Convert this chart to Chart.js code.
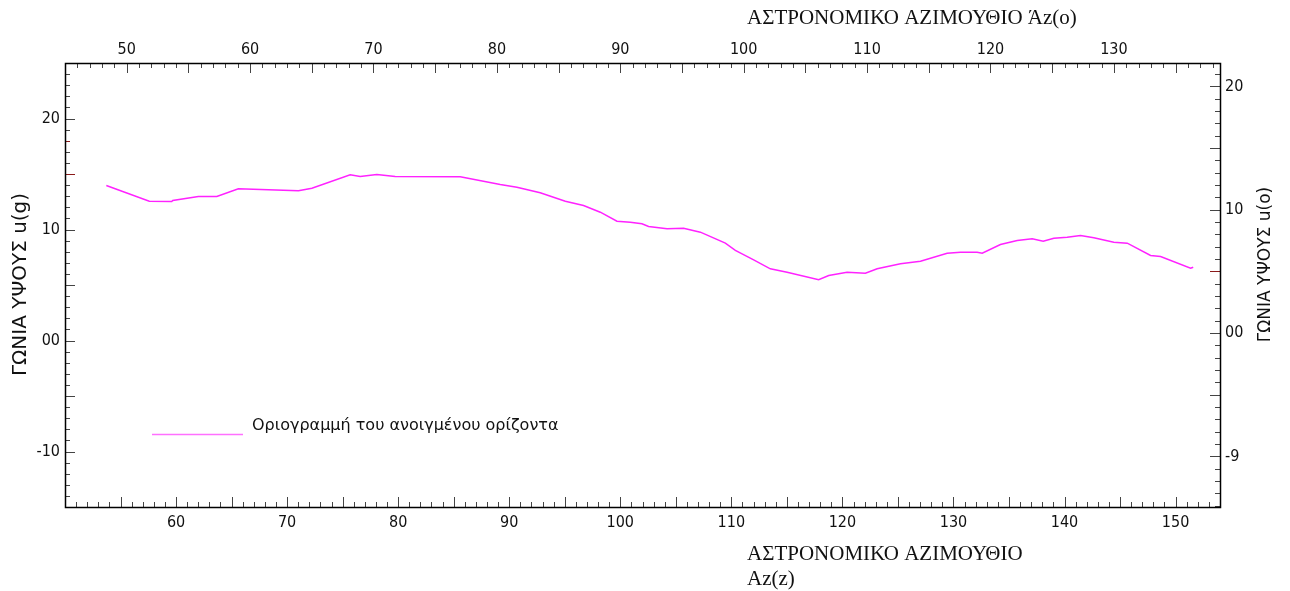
<!DOCTYPE html>
<html><head><meta charset="utf-8">
<script src="https://cdn.jsdelivr.net/npm/chart.js@4.4.1/dist/chart.umd.min.js"></script>
<style>html,body{margin:0;padding:0;background:#fff;}#wrap{width:1290px;height:591px;}</style>
</head><body><div id="wrap"><canvas id="c" width="1290" height="591"></canvas></div>
<script>
// ---- data ----
const azimuthG = [53.72,57.59,59.61,59.70,62.01,63.67,65.61,71.02,72.23,75.68,76.58,78.08,79.73,85.59,89.19,90.69,92.79,95.05,96.69,98.20,99.70,100.90,101.95,102.55,104.21,105.70,107.21,109.46,110.36,112.01,113.51,115.02,117.86,118.77,120.42,122.07,123.13,125.23,127.03,129.43,130.63,132.13,132.59,134.23,135.74,137.09,138.08,139.04,140.24,141.44,142.64,144.44,145.65,147.75,148.65,151.35,151.59];
const heightG = [13.96,12.55,12.52,12.61,12.97,12.97,13.67,13.49,13.72,14.93,14.77,14.95,14.77,14.75,14.05,13.81,13.31,12.55,12.16,11.56,10.75,10.66,10.51,10.27,10.06,10.12,9.76,8.77,8.11,7.27,6.46,6.15,5.47,5.86,6.15,6.06,6.46,6.91,7.14,7.86,7.95,7.95,7.86,8.65,9.01,9.16,8.95,9.22,9.31,9.46,9.25,8.86,8.77,7.66,7.57,6.51,6.60];
const bottomTicks = [60,70,80,90,100,110,120,130,140,150];
const topTicks = [50,60,70,80,90,100,110,120,130];
const leftTickValues = [20,10,0,-10];
const leftTickLabels = ['20','10','00','-10'];
const rightTickValues = [20,10,0,-10];
const rightTickLabels = ['20','10','00','-9'];
const seriesLabel = 'Οριογραμμή του ανοιγμένου ορίζοντα';
const topTitle = 'ΑΣΤΡΟΝΟΜΙΚΟ ΑΖΙΜΟΥΘΙΟ Άz(o)';
const bottomTitle = ['ΑΣΤΡΟΝΟΜΙΚΟ ΑΖΙΜΟΥΘΙΟ', 'Az(z)'];
const leftTitle = 'ΓΩΝΙΑ ΥΨΟΥΣ u(g)';
const rightTitle = 'ΓΩΝΙΑ ΥΨΟΥΣ u(o)';
const highlightLeft = [18, 15];
const highlightRight = [5];

const points = azimuthG.map((x, i) => ({x: x, y: heightG[i]}));
const tickFont = {family: '"Liberation Sans Narrow", "DejaVu Sans Condensed", "Liberation Sans", sans-serif', size: 16};

function fixedTicks(vals) { return function(s){ s.ticks = vals.map(v => ({value: v})); }; }

const framePlugin = {
  id: 'frame',
  afterDraw(chart) {
    const ctx = chart.ctx, a = chart.chartArea, sc = chart.scales;
    ctx.save();
    function drawTicks(scale, side, hl) {
      const lo = Math.ceil(scale.min), hi = Math.floor(scale.max);
      for (let v = lo; v <= hi; v++) {
        const len = (v % 5 === 0) ? 10 : 5;
        const p = Math.round(scale.getPixelForValue(v)) + 0.5;
        ctx.strokeStyle = (hl && hl.indexOf(v) >= 0) ? '#8b1a1a' : '#444';
        ctx.lineWidth = 1;
        ctx.beginPath();
        if (side === 'bottom') { ctx.moveTo(p, a.bottom); ctx.lineTo(p, a.bottom - len); }
        if (side === 'top') { ctx.moveTo(p, a.top); ctx.lineTo(p, a.top + len); }
        if (side === 'left') { ctx.moveTo(a.left, p); ctx.lineTo(a.left + len, p); }
        if (side === 'right') { ctx.moveTo(a.right, p); ctx.lineTo(a.right - len, p); }
        ctx.stroke();
      }
    }
    drawTicks(sc.x, 'bottom');
    drawTicks(sc.x2, 'top');
    drawTicks(sc.y, 'left', highlightLeft);
    drawTicks(sc.y2, 'right', highlightRight);
    ctx.strokeStyle = '#000';
    ctx.lineWidth = 1.5;
    ctx.strokeRect(Math.round(a.left) + 0.5, Math.round(a.top) + 0.5, Math.round(a.right - a.left), Math.round(a.bottom - a.top));
    ctx.fillStyle = '#111';
    ctx.textBaseline = 'middle';
    ctx.textAlign = 'left';
    ctx.font = '21px "Liberation Serif", "Times New Roman", serif';
    ctx.fillText(topTitle, 747, 18);
    ctx.fillText(bottomTitle[0], 747, 554);
    ctx.fillText(bottomTitle[1], 747, 579);
    ctx.textAlign = 'center';
    ctx.save();
    ctx.translate(21, 284.5);
    ctx.rotate(-Math.PI / 2);
    ctx.font = '20px "DejaVu Sans", sans-serif';
    ctx.fillText(leftTitle, 0, 0);
    ctx.restore();
    ctx.save();
    ctx.translate(1266, 264.5);
    ctx.rotate(-Math.PI / 2);
    ctx.font = '17px "DejaVu Sans", sans-serif';
    ctx.fillText(rightTitle, 0, 0);
    ctx.restore();
    const ds = chart.data.datasets[0];
    ctx.strokeStyle = '#ff70ff';
    ctx.lineWidth = 1.5;
    ctx.beginPath(); ctx.moveTo(152, 434.5); ctx.lineTo(243, 434.5); ctx.stroke();
    ctx.textAlign = 'left';
    ctx.font = '16px "DejaVu Sans", sans-serif';
    ctx.fillStyle = '#111';
    ctx.fillText(ds.label, 252, 426);
    ctx.restore();
  }
};

const axisCommon = {grid: {display: false, drawTicks: false}, border: {display: false}};

new Chart(document.getElementById('c'), {
  type: 'line',
  data: {
    datasets: [{
      label: seriesLabel,
      data: points,
      borderColor: '#ff22ff',
      borderWidth: 1.5,
      pointRadius: 0,
      tension: 0,
      fill: false,
      xAxisID: 'x',
      yAxisID: 'y'
    }]
  },
  options: {
    responsive: false,
    animation: false,
    devicePixelRatio: 1,
    layout: {padding: 0},
    plugins: {legend: {display: false}, tooltip: {enabled: false}},
    scales: {
      x: Object.assign({}, axisCommon, {
        type: 'linear', position: 'bottom', min: 50, max: 154,
        afterBuildTicks: fixedTicks(bottomTicks),
        afterFit(s) { s.height = 84; },
        ticks: {color: '#111', font: tickFont, padding: 6, maxRotation: 0, autoSkip: false}
      }),
      x2: Object.assign({}, axisCommon, {
        type: 'linear', position: 'top', min: 45, max: 138.6,
        afterBuildTicks: fixedTicks(topTicks),
        afterFit(s) { s.height = 63; },
        ticks: {color: '#111', font: tickFont, padding: 4, maxRotation: 0, autoSkip: false}
      }),
      y: Object.assign({}, axisCommon, {
        type: 'linear', position: 'left', min: -15, max: 25,
        afterBuildTicks: fixedTicks(leftTickValues),
        afterFit(s) { s.width = 65; },
        ticks: {color: '#111', font: tickFont, padding: 5, autoSkip: false,
          callback: (v) => leftTickLabels[leftTickValues.indexOf(v)]}
      }),
      y2: Object.assign({}, axisCommon, {
        type: 'linear', position: 'right', min: -14.1, max: 21.9,
        afterBuildTicks: fixedTicks(rightTickValues),
        afterFit(s) { s.width = 70; },
        ticks: {color: '#111', font: tickFont, padding: 5, autoSkip: false,
          callback: (v) => rightTickLabels[rightTickValues.indexOf(v)]}
      })
    }
  },
  plugins: [framePlugin]
});
</script>
</body></html>
